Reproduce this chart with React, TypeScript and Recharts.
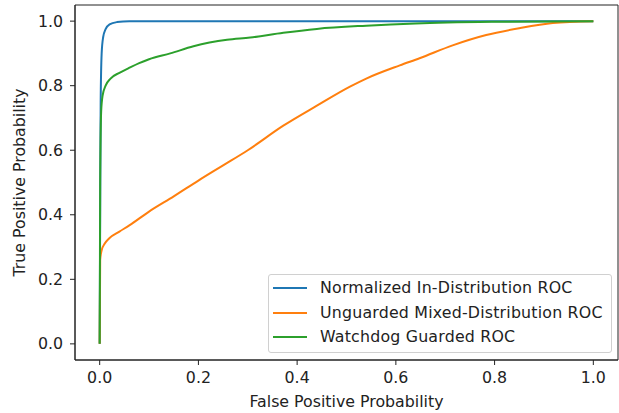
import { LineChart, Line, XAxis, YAxis, Legend, ReferenceArea } from 'recharts'

// ROC curves (false positive rate, true positive rate)
const inDistFpr = [0, 0.001, 0.002, 0.004, 0.007, 0.012, 0.02, 0.035, 0.06, 0.2, 0.5, 1]
const inDistTpr = [0, 0.4, 0.75, 0.9, 0.95, 0.975, 0.99, 0.997, 1, 1, 1, 1]

const mixedFpr = [
  0, 0.001, 0.004, 0.01, 0.02, 0.04, 0.06, 0.1, 0.15, 0.2, 0.25, 0.3, 0.372, 0.44, 0.507, 0.54,
  0.608, 0.648, 0.715, 0.783, 0.85, 0.918, 1,
]
const mixedTpr = [
  0, 0.26, 0.29, 0.31, 0.328, 0.348, 0.367, 0.41, 0.457, 0.506, 0.553, 0.6, 0.676, 0.738, 0.797,
  0.822, 0.863, 0.885, 0.925, 0.957, 0.978, 0.994, 1,
]

const guardedFpr = [
  0, 0.001, 0.003, 0.006, 0.012, 0.022, 0.04, 0.057, 0.08, 0.1, 0.143, 0.19, 0.258, 0.305, 0.372,
  0.44, 0.54, 0.64, 0.8, 1,
]
const guardedTpr = [
  0, 0.5, 0.72, 0.77, 0.8, 0.822, 0.84, 0.853, 0.87, 0.882, 0.9, 0.922, 0.942, 0.949, 0.964,
  0.976, 0.986, 0.993, 0.998, 1,
]

const ticks = [0, 0.2, 0.4, 0.6, 0.8, 1.0]

const toPoints = (fpr: number[], tpr: number[]) => fpr.map((x, i) => ({ x, y: tpr[i] }))

const series = [
  { name: 'Normalized In-Distribution ROC', color: '#1f77b4', data: toPoints(inDistFpr, inDistTpr) },
  { name: 'Unguarded Mixed-Distribution ROC', color: '#ff7f0e', data: toPoints(mixedFpr, mixedTpr) },
  { name: 'Watchdog Guarded ROC', color: '#2ca02c', data: toPoints(guardedFpr, guardedTpr) },
]

const FONT = 'DejaVu Sans, sans-serif'
const FS = 15.8
const tickStyle = { fill: '#222', fontSize: FS, fontFamily: FONT }

function LegendBox() {
  return (
    <div
      style={{
        border: '1px solid #d0d0d0',
        borderRadius: 3,
        background: 'rgba(255,255,255,0.8)',
        padding: '1px 8px 2px 4px',
        fontFamily: FONT,
        fontSize: FS,
        letterSpacing: 0.2,
        color: '#222',
        lineHeight: 1,
      }}
    >
      {series.map((s) => (
        <div key={s.name} style={{ display: 'flex', alignItems: 'center', height: 24.5 }}>
          <span style={{ width: 34, height: 2, background: s.color, marginRight: 13 }} />
          <span>{s.name}</span>
        </div>
      ))}
    </div>
  )
}

export default function App() {
  return (
    <div style={{ position: 'absolute', left: 0, top: 0, background: '#fff' }}>
      <LineChart width={619} height={413} margin={{ top: 5, right: 1, bottom: 0, left: 0 }}>
        <XAxis
          type="number"
          dataKey="x"
          domain={[-0.05, 1.05]}
          ticks={ticks}
          tickFormatter={(v: number) => v.toFixed(1)}
          allowDuplicatedCategory={false}
          height={53}
          tick={tickStyle}
          tickSize={5}
          tickMargin={7}
          stroke="#222"
          label={{
            value: 'False Positive Probability',
            position: 'insideBottom',
            offset: 6,
            style: { fill: '#222', fontSize: FS, fontFamily: FONT },
          }}
        />
        <YAxis
          type="number"
          dataKey="y"
          domain={[-0.05, 1.05]}
          ticks={ticks}
          tickFormatter={(v: number) => v.toFixed(1)}
          width={75}
          tick={tickStyle}
          tickSize={5}
          tickMargin={7}
          stroke="#222"
          label={{
            value: 'True Positive Probability',
            angle: -90,
            position: 'insideLeft',
            offset: 19,
            style: { fill: '#222', fontSize: FS, fontFamily: FONT, textAnchor: 'middle' },
          }}
        />
        <ReferenceArea
          x1={-0.05}
          x2={1.05}
          y1={-0.05}
          y2={1.05}
          fill="none"
          stroke="#222"
          strokeWidth={1}
          ifOverflow="visible"
        />
        {series.map((s) => (
          <Line
            key={s.name}
            data={s.data}
            dataKey="y"
            name={s.name}
            type="monotone"
            stroke={s.color}
            strokeWidth={2}
            dot={false}
            activeDot={false}
            isAnimationActive={false}
          />
        ))}
        <Legend
          layout="vertical"
          align="center"
          verticalAlign="middle"
          content={() => <LegendBox />}
          wrapperStyle={{ left: 268, top: 274, width: 'auto', height: 'auto' }}
        />
      </LineChart>
    </div>
  )
}
